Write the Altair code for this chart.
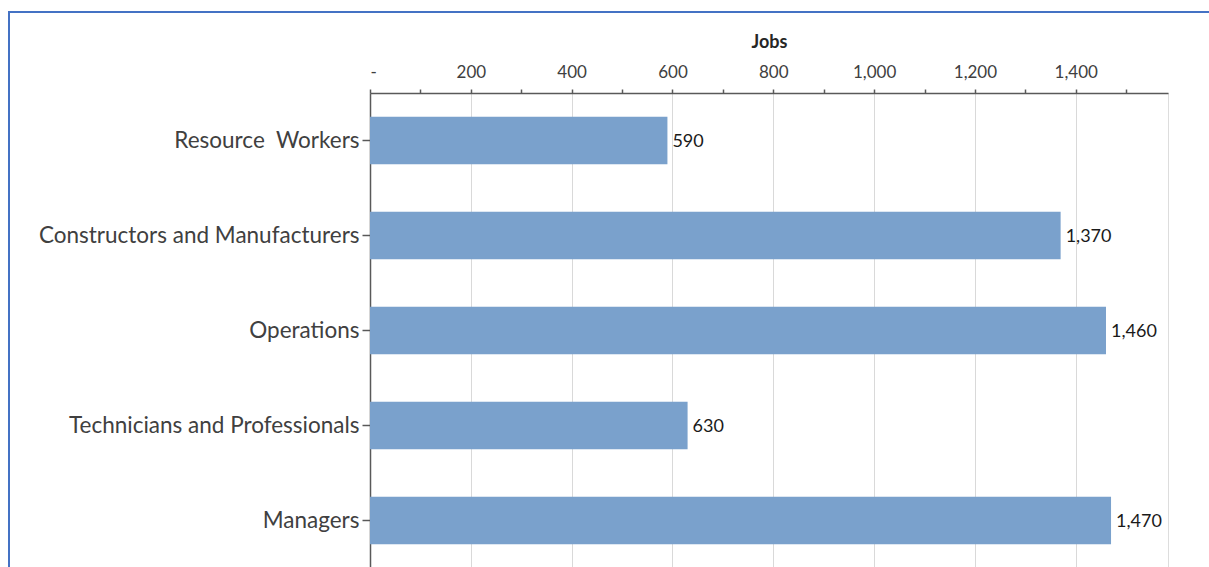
import altair as alt
import pandas as pd

categories = ["Resource\u00a0 Workers", "Constructors and Manufacturers", "Operations",
              "Technicians and Professionals", "Managers"]
jobs = [590, 1370, 1460, 630, 1470]
tick_values = list(range(0, 1600, 100))

df = pd.DataFrame({"category": categories, "jobs": jobs})

FONT = "Lato"
x_scale = alt.Scale(domain=[0, 1583], nice=False, zero=True)
y_scale = alt.Scale(paddingInner=0.5, paddingOuter=0.25)

x_axis = alt.Axis(
    orient="top", title="Jobs", values=tick_values,
    labelExpr="datum.value % 200 == 0 ? (datum.value == 0 ? '-' : format(datum.value, ',')) : ''",
    grid=True, gridColor="#d9d9d9", gridWidth=1,
    gridOpacity={"condition": {"test": "datum.value % 200 != 0 || datum.value == 0", "value": 0}, "value": 1},
    tickSize=4, tickColor="#595959", tickWidth=1.5,
    domainColor="#595959", domainWidth=1.5,
    labelFont=FONT, labelFontSize=17, labelColor="#404040", labelPadding=8,
    titleFont=FONT, titleFontSize=18, titleFontWeight="bold", titleColor="#262626", titlePadding=12,
)
y_axis = alt.Axis(
    title=None, domainColor="#595959", domainWidth=1.5, tickColor="#595959", tickWidth=1.5,
    tickSize=8, labelPadding=3, labelFont=FONT, labelFontSize=22.5, labelColor="#404040",
    grid=False, labelLimit=400,
)

base = alt.Chart(df)
bars = base.mark_bar(color="#7aa1cc").encode(
    x=alt.X("jobs:Q", scale=x_scale, axis=x_axis),
    y=alt.Y("category:N", sort=categories, scale=y_scale, axis=y_axis),
)
labels = base.mark_text(align="left", baseline="middle", dx=5, dy=1, font=FONT, fontSize=18, color="#1a1a1a").encode(
    x=alt.X("jobs:Q", scale=x_scale),
    y=alt.Y("category:N", sort=categories, scale=y_scale),
    text=alt.Text("jobs:Q", format=","),
)
frame_data = alt.Data(values=[{"k": 1}])
frame_top = alt.Chart(frame_data).mark_rule(color="#4472c4", strokeWidth=2).encode(
    x=alt.value(-362), x2=alt.value(845), y=alt.value(-81)
)
frame_left = alt.Chart(frame_data).mark_rule(color="#4472c4", strokeWidth=2).encode(
    x=alt.value(-361), y=alt.value(-81), y2=alt.value(480)
)

chart = alt.layer(bars, labels, frame_top, frame_left).properties(
    width=798, height=475,
    autosize=alt.AutoSizeParams(type="none"),
    padding={"left": 370, "top": 93, "right": 41, "bottom": 0},
).configure_view(stroke=None).configure(background="white")

chart.save("out.html", embed_options={"renderer": "svg", "actions": False})
